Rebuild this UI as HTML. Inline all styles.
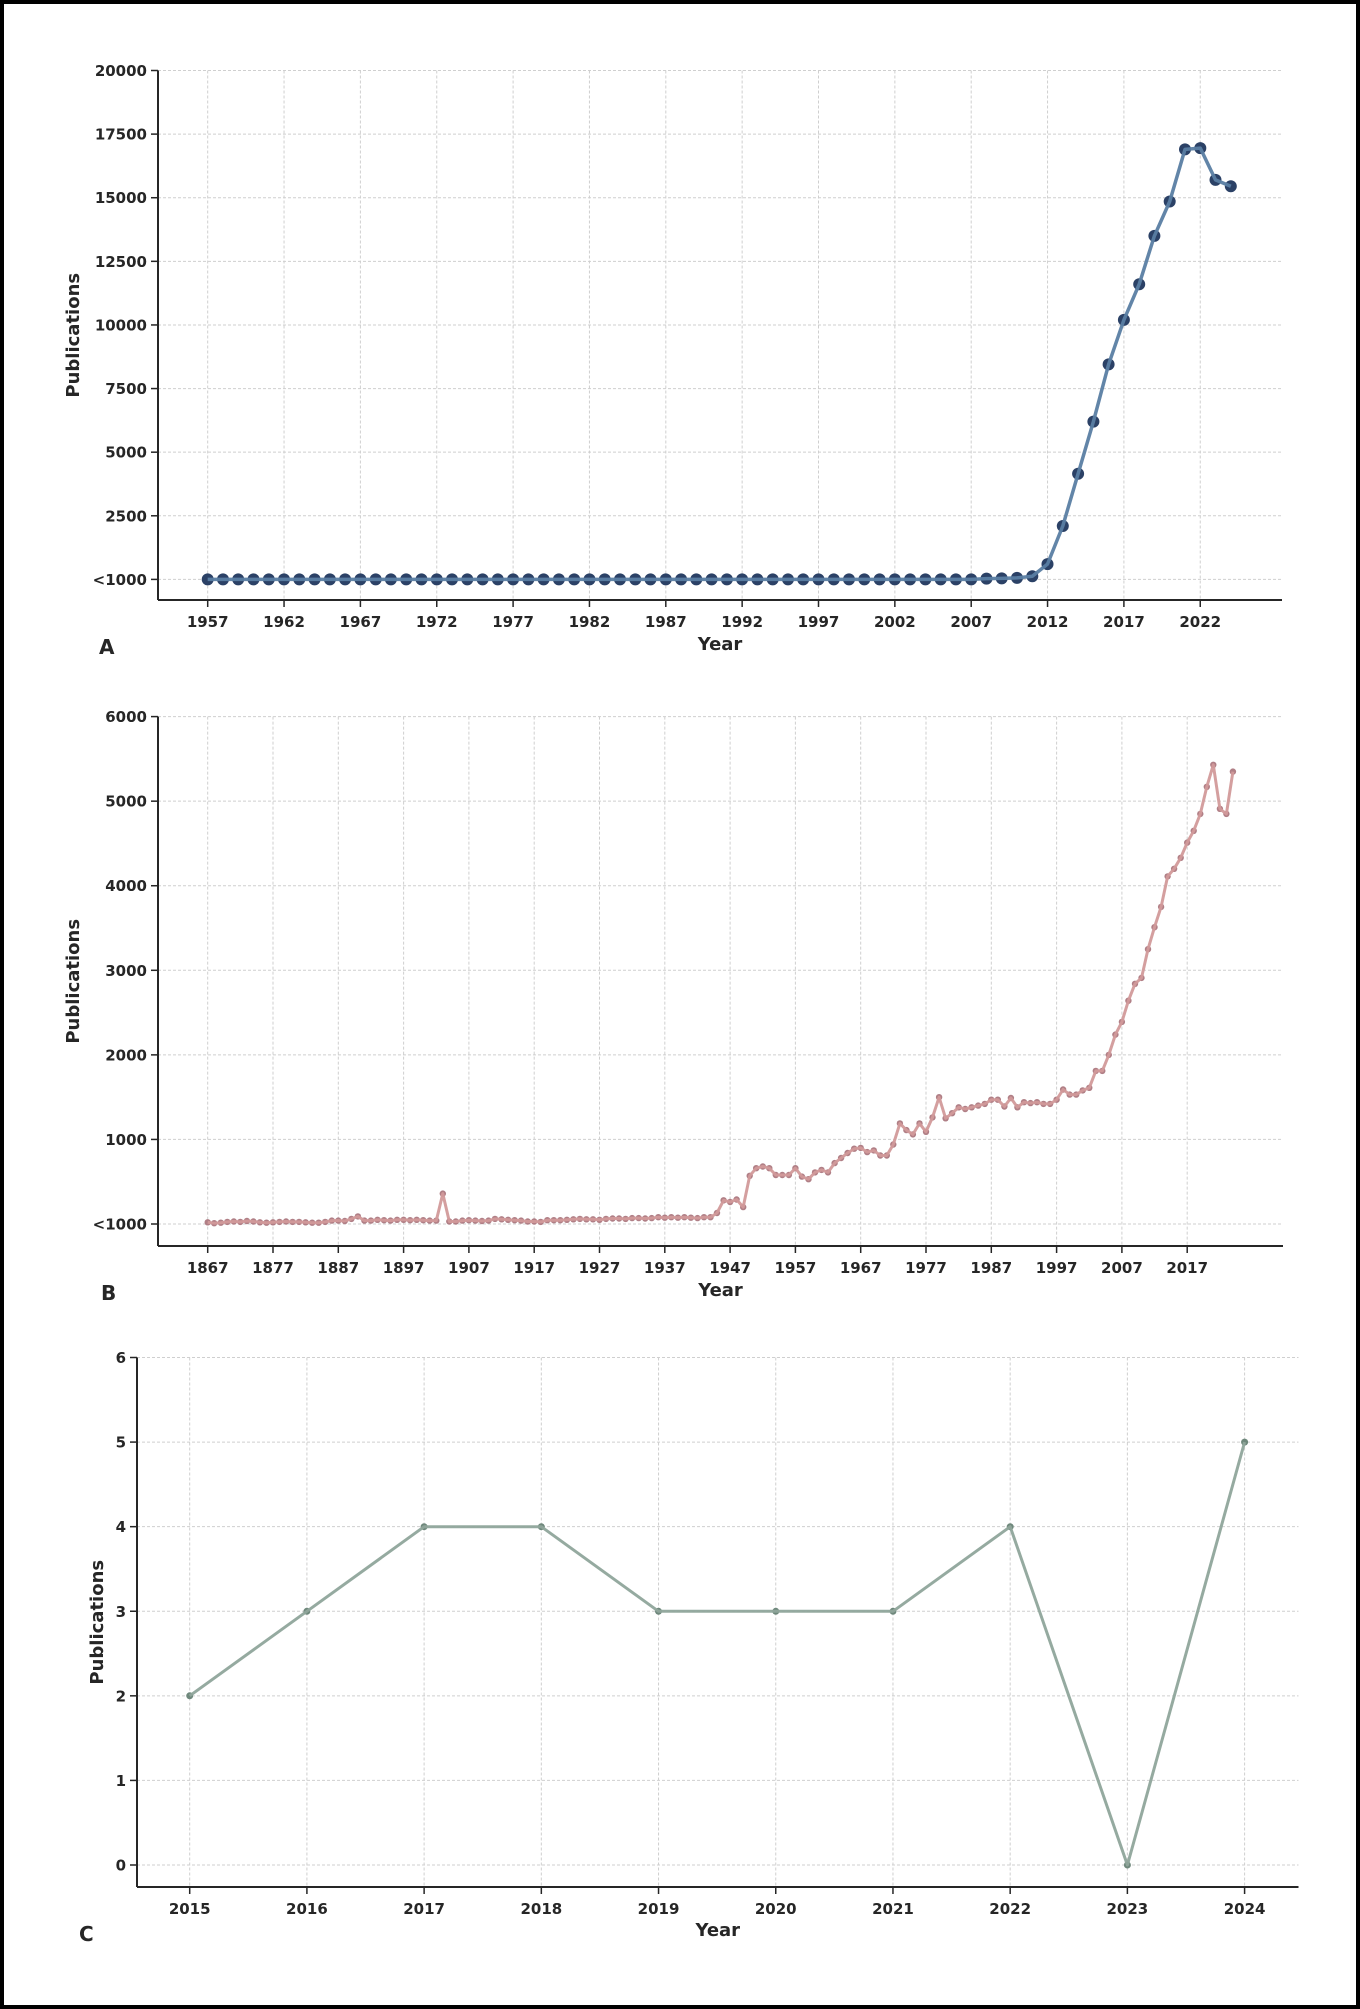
<!DOCTYPE html>
<html><head><meta charset="utf-8"><style>
html,body{margin:0;padding:0;background:#fff}
#f{position:absolute;left:0;top:0;width:1352px;height:2001px;border:4px solid #000;background:#fff}
svg{position:absolute;left:0;top:0}
text{font-family:"DejaVu Sans","Liberation Sans",sans-serif;font-weight:bold;fill:#262626}
</style></head><body><div id="f"></div>
<svg id="s" width="1360" height="2009" xmlns="http://www.w3.org/2000/svg"></svg>
<script>
var s=document.getElementById('s'),out='';
function chart(o){
 var L=o.L,B=o.B,R=o.R,T=o.T,Z=o.Z;
 function X(v){return o.x0+(v-o.v0)*o.dx}
 function Y(v){return Z-(v/o.ymax)*(Z-T)}
 o.xt.forEach(function(v){var x=X(v);out+='<line x1="'+x+'" y1="'+T+'" x2="'+x+'" y2="'+B+'" stroke="#cfcfcf" stroke-width="1" stroke-dasharray="3,2"/>';});
 o.yt.forEach(function(t){var y=Y(t[0]);out+='<line x1="'+L+'" y1="'+y+'" x2="'+R+'" y2="'+y+'" stroke="#cfcfcf" stroke-width="1" stroke-dasharray="3,2"/>';});
 var pts=o.d.map(function(p){return X(p[0]).toFixed(1)+','+Y(p[1]).toFixed(1)}).join(' ');
 var mk='';o.d.forEach(function(p){mk+='<circle cx="'+X(p[0]).toFixed(1)+'" cy="'+Y(p[1]).toFixed(1)+'" r="'+o.r+'" fill="'+o.mc+'"/>';});
 out+=mk+'<polyline points="'+pts+'" fill="none" stroke="'+o.lc+'" stroke-width="'+o.lw+'" stroke-linejoin="round" opacity="0.95"/>';
 out+='<line x1="'+L+'" y1="'+T+'" x2="'+L+'" y2="'+B+'" stroke="#262626" stroke-width="2"/>';
 out+='<line x1="'+L+'" y1="'+B+'" x2="'+R+'" y2="'+B+'" stroke="#262626" stroke-width="2"/>';
 o.xt.forEach(function(v){var x=X(v);out+='<line x1="'+x+'" y1="'+B+'" x2="'+x+'" y2="'+(B+7)+'" stroke="#262626" stroke-width="1.5"/><text x="'+x+'" y="'+(B+27)+'" font-size="15" text-anchor="middle">'+v+'</text>';});
 o.yt.forEach(function(t){var y=Y(t[0]);out+='<line x1="'+(L-7)+'" y1="'+y+'" x2="'+L+'" y2="'+y+'" stroke="#262626" stroke-width="1.5"/><text x="'+(L-11)+'" y="'+(y+5.5)+'" font-size="15" text-anchor="end">'+t[1]+'</text>';});
 out+='<text x="'+((L+R)/2)+'" y="'+o.xl+'" font-size="18" text-anchor="middle">Year</text>';
 out+='<text transform="translate('+o.ylx+','+((T+B)/2)+') rotate(-90)" font-size="18" text-anchor="middle">Publications</text>';
 out+='<text x="'+o.px+'" y="'+o.py+'" font-size="20" fill="#333">'+o.p+'</text>';
}
var a=[],av={2008:30,2009:40,2010:60,2011:120,2012:600,2013:2100,2014:4150,2015:6200,2016:8450,2017:10200,2018:11600,2019:13500,2020:14850,2021:16900,2022:16950,2023:15700,2024:15450};
for(var y=1957;y<=2024;y++)a.push([y,av[y]||0]);
var axt=[];for(y=1957;y<=2022;y+=5)axt.push(y);
var ayt=[[0,'<1000']];for(var v=2500;v<=20000;v+=2500)ayt.push([v,v]);
chart({L:158,B:600,R:1282,T:70.5,Z:579.4,x0:207.7,v0:1957,dx:15.27,ymax:20000,xt:axt,yt:ayt,d:a,r:6,mc:'#2b4166',lc:'#5a7ea3',lw:3.5,xl:650,ylx:79,px:99,py:654,p:'A'});
var early={1867:20,1868:10,1869:15,1870:25,1871:30,1872:25,1873:35,1874:30,1875:20,1876:15,1877:20,1878:25,1879:30,1880:25,1881:25,1882:20,1883:15,1884:15,1885:25,1886:40,1887:40,1888:35,1889:60,1890:90,1891:40,1892:40,1893:50,1894:45,1895:40,1896:50,1897:50,1898:45,1899:50,1900:45,1901:40,1902:40,1903:360,1904:30,1905:30,1906:40,1907:45,1908:40,1909:35,1910:40,1911:60,1912:55,1913:50,1914:45,1915:40,1916:30,1917:30,1918:25,1919:45,1920:45,1921:45,1922:50,1923:55,1924:60,1925:55,1926:55,1927:50,1928:60,1929:65,1930:65,1931:60,1932:70,1933:70,1934:65,1935:70,1936:80,1937:75,1938:80,1939:75,1940:80,1941:75,1942:70,1943:80,1944:80,1945:130,1946:280,1947:260,1948:290,1949:200};
var late=[0.57,0.66,0.68,0.66,0.58,0.58,0.58,0.66,0.56,0.53,0.61,0.64,0.61,0.72,0.78,0.84,0.89,0.9,0.85,0.87,0.81,0.81,0.94,1.19,1.11,1.06,1.19,1.09,1.26,1.5,1.25,1.31,1.38,1.36,1.38,1.4,1.42,1.47,1.47,1.39,1.49,1.38,1.44,1.43,1.44,1.42,1.42,1.47,1.59,1.53,1.53,1.58,1.61,1.81,1.81,2.0,2.24,2.39,2.64,2.84,2.91,3.25,3.51,3.75,4.11,4.2,4.33,4.51,4.65,4.85,5.17,5.43,4.91,4.85,5.35];
var b=[];for(y=1867;y<=1949;y++)b.push([y,early[y]]);
late.forEach(function(v,i){b.push([1950+i,v*1000]);});
var bxt=[];for(y=1867;y<=2017;y+=10)bxt.push(y);
var byt=[[0,'<1000']];for(v=1000;v<=6000;v+=1000)byt.push([v,v]);
chart({L:158,B:1246,R:1283,T:716.6,Z:1224,x0:207.7,v0:1867,dx:6.53,ymax:6000,xt:bxt,yt:byt,d:b,r:3.2,mc:'#b07f86',lc:'#d29a9a',lw:3,xl:1296,ylx:79,px:101,py:1300,p:'B'});
var cv=[2,3,4,4,3,3,3,4,0,5],c=cv.map(function(v,i){return [2015+i,v]});
var cxt=[];for(y=2015;y<=2024;y++)cxt.push(y);
var cyt=[];for(v=0;v<=6;v++)cyt.push([v,v]);
chart({L:137,B:1887,R:1298.5,T:1357.5,Z:1865,x0:189.7,v0:2015,dx:117.21,ymax:6,xt:cxt,yt:cyt,d:c,r:3.5,mc:'#6f887c',lc:'#8fa59b',lw:3,xl:1936,ylx:103,px:79,py:1941,p:'C'});
s.innerHTML=out;
</script></body></html>
